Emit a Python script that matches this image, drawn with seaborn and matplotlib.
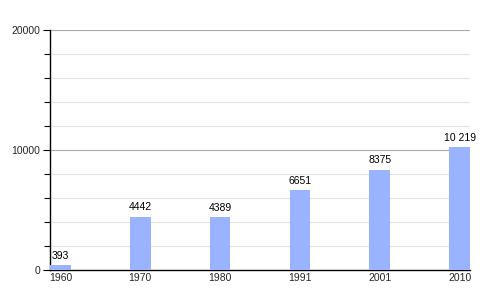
import matplotlib
matplotlib.use("Agg")
import matplotlib.pyplot as plt
import seaborn as sns
import pandas as pd
from matplotlib.ticker import MultipleLocator

years = ["1960", "1970", "1980", "1991", "2001", "2010"]
population = [393, 4442, 4389, 6651, 8375, 10219]
value_labels = ["393", "4442", "4389", "6651", "8375", "10 219"]
y_ticks = [0, 10000, 20000]

sns.set_style("white")
plt.rcParams['font.family'] = ['Liberation Sans', 'DejaVu Sans']

df = pd.DataFrame({"year": years, "pop": population})

fig = plt.figure(figsize=(5, 3), dpi=100)
ax = fig.add_axes([0.1, 0.1, 0.84, 0.8])

sns.barplot(data=df, x="year", y="pop", color="#99b3ff", saturation=1,
            width=0.26, ax=ax, zorder=3, linewidth=0, edgecolor="none")

ax.set_xlim(-0.13, 5.13)
ax.set_ylim(0, 20000)
ax.set_yticks(y_ticks)
ax.set_yticklabels([str(t) for t in y_ticks], fontsize=7.5)
ax.yaxis.set_minor_locator(MultipleLocator(2000))
ax.set_xlabel("")
ax.set_ylabel("")

for v in range(2000, 20001, 2000):
    col = "#aaaaaa" if v % 10000 == 0 else "#e3e3e3"
    ax.axhline(v, color=col, lw=0.8, zorder=1)

for i, (v, lab) in enumerate(zip(population, value_labels)):
    ax.text(i, v + 350, lab, ha="center", va="bottom", fontsize=7.5, color="black")

ax.tick_params(axis="y", which="major", length=5, width=0.8, color="black", pad=2, left=True)
ax.tick_params(axis="y", which="minor", length=4, width=0.8, color="black", left=True)
ax.tick_params(axis="x", length=0, labelsize=7.5, pad=2)

for s in ["top", "right"]:
    ax.spines[s].set_visible(False)
for s in ["left", "bottom"]:
    ax.spines[s].set_color("black")
    ax.spines[s].set_linewidth(1)

fig.savefig("out.png", dpi=100)
